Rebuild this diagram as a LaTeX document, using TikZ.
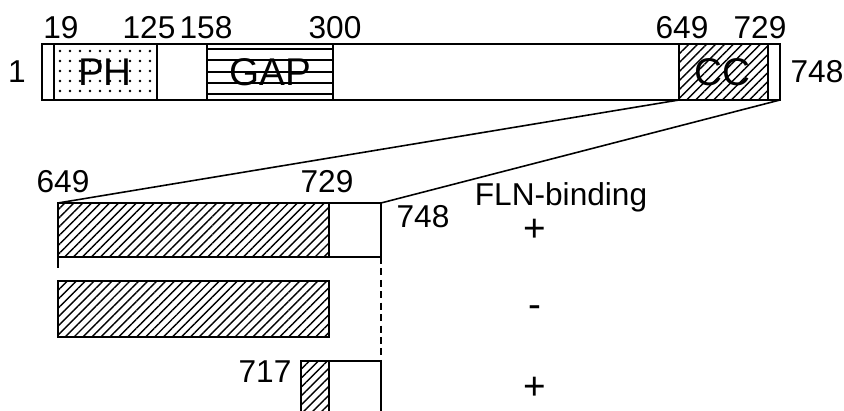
\documentclass[tikz,border=0pt]{standalone}
\usepackage{fontspec}
\setmainfont{Liberation Sans}
\usetikzlibrary{patterns.meta}
\tikzset{
  hatch/.style={pattern={Lines[angle=45,distance=3.6pt,line width=0.8pt]}},
  dotfill/.style={pattern={Dots[distance=0.2cm,radius=0.8pt]}},
  numlab/.style={font=\fontsize{18}{20}\selectfont,inner sep=0pt},
  domlab/.style={font=\fontsize{22}{24}\selectfont,inner sep=0pt},
  reslab/.style={font=\fontsize{22}{24}\selectfont,inner sep=0pt}
}
\begin{document}
\begin{tikzpicture}[x=0.02cm,y=-0.02cm,line width=0.9pt]
  \useasboundingbox (0,0) rectangle (844,411);
  \clip (0,0) rectangle (844,411);
  % full length protein
  \draw[dotfill] (54,44) rectangle (157,100);
  \foreach \y in {49,60,72,83,94}
    \draw[line width=1.2pt] (207,\y) -- (333,\y);
  \draw[hatch] (679,44) rectangle (768,100);
  \draw (42,44) rectangle (780,100);
  \draw (207,44) -- (207,100) (333,44) -- (333,100);
  \node[domlab] (ph) at (105,72) {PH};
  \node[domlab] (gap) at (270,72) {GAP};
  \node[domlab] (cc) at (722,72) {CC};
  \node[numlab] (n1) at (17,72) {1};
  \node[numlab] (n748) at (817,72) {748};
  \foreach \x/\lab in {61/19,149/125,206/158,335/300,682/649,760/729}{
    \node[numlab] (top\lab) at (\x,28) {\lab};
  }
  \coordinate (ccstart) at (679,100);
  \coordinate (ccend) at (780,100);
  % constructs
  \draw[hatch] (58,203) rectangle (329,257);
  \draw (329,203) rectangle (381,257);
  \draw[hatch] (58,281) rectangle (329,337);
  \draw[hatch] (301,361) rectangle (329,430);
  \draw (329,361) rectangle (381,430);
  \coordinate (cstart) at (58,203);
  \coordinate (cend) at (381,203);
  \draw (ccstart) -- (cstart);
  \draw (ccend) -- (cend);
  \draw[dash pattern=on 6pt off 8pt] (58,257) -- (58,281);
  \draw[dash pattern=on 4pt off 2.5pt] (381,257) -- (381,361);
  \node[numlab] (c649) at (63,182) {649};
  \node[numlab] (c729) at (327,182) {729};
  \node[numlab] (c748) at (423,217) {748};
  \node[numlab] (c717) at (265,372) {717};
  \node[numlab] (fln) at (561,197) {FLN-binding};
  \foreach \y/\res [count=\i] in {230/+,312/-,388/+}{
    \node[reslab] (res\i) at (535,\y) {\res};
  }
\end{tikzpicture}
\end{document}
